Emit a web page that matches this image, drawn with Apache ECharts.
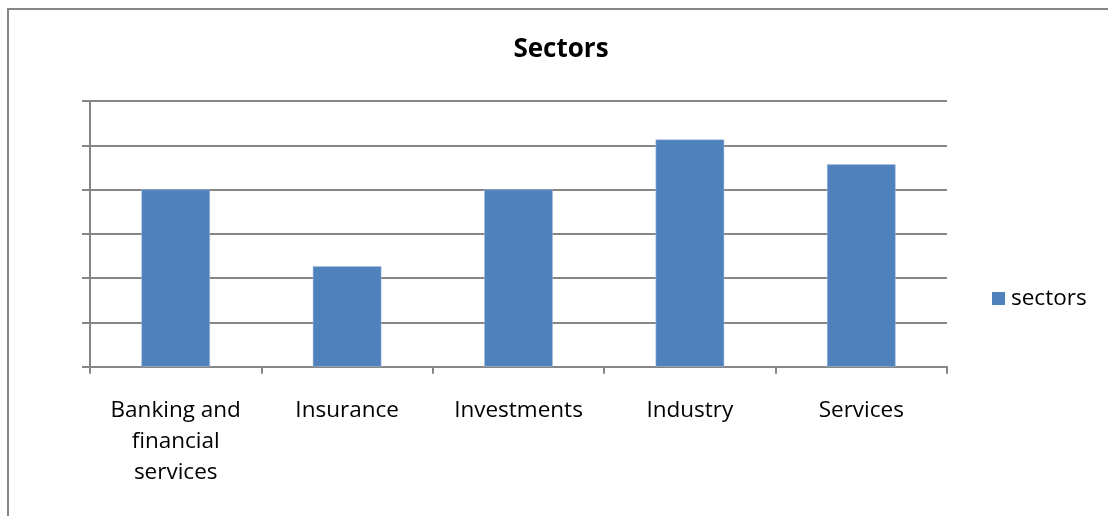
<!DOCTYPE html>
<html>
<head>
<meta charset="utf-8">
<script src="https://cdn.jsdelivr.net/npm/echarts@6/dist/echarts.min.js"></script>
<style>
html,body{margin:0;padding:0;background:#fff;}
#chart{width:1108px;height:516px;}
</style>
</head>
<body>
<div id="chart"></div>
<script>
var categories = ['Banking and\nfinancial\nservices', 'Insurance', 'Investments', 'Industry', 'Services'];
var seriesName = 'sectors';
var values = [4, 2.27, 4, 5.13, 4.57];
var chartTitle = 'Sectors';

var chart = echarts.init(document.getElementById('chart'));
var font = 'Open Sans';
chart.setOption({
  animation: false,
  backgroundColor: '#ffffff',
  graphic: [{
    type: 'rect',
    shape: {x: 8, y: 9, width: 1300, height: 700},
    style: {fill: 'none', stroke: '#868686', lineWidth: 2},
    silent: true
  }],
  title: {
    text: chartTitle,
    left: 556,
    top: 32,
    textAlign: 'center',
    textStyle: {fontFamily: font, fontWeight: 'bold', fontSize: 26, color: '#000'}
  },
  legend: {
    data: [{name: seriesName, itemStyle: {borderWidth: 0}}],
    orient: 'vertical',
    left: 987,
    top: 282,
    itemWidth: 13,
    itemHeight: 13,
    icon: 'rect',
    itemGap: 5,
    textStyle: {fontFamily: font, fontSize: 22.5, color: '#000', padding: [0, 0, 0, 1]}
  },
  grid: {left: 90, right: 161, top: 101, bottom: 149.3, containLabel: false},
  xAxis: {
    type: 'category',
    data: categories,
    axisLine: {lineStyle: {color: '#868686', width: 2}},
    axisTick: {show: true, length: 7, lineStyle: {color: '#868686', width: 2}},
    axisLabel: {fontFamily: font, fontSize: 22.5, color: '#000', margin: 28, lineHeight: 31, interval: 0}
  },
  yAxis: {
    type: 'value',
    min: 0,
    max: 6,
    interval: 1,
    axisLine: {show: true, lineStyle: {color: '#868686', width: 2}},
    axisTick: {show: true, length: 8, lineStyle: {color: '#868686', width: 2}},
    axisLabel: {show: false},
    splitLine: {lineStyle: {color: '#868686', width: 2}}
  },
  series: [{
    name: seriesName,
    type: 'bar',
    data: values,
    barWidth: '40%',
    itemStyle: {color: '#4F81BD', borderColor: '#a9c0de', borderWidth: 0.5}
  }]
});
</script>
</body>
</html>
